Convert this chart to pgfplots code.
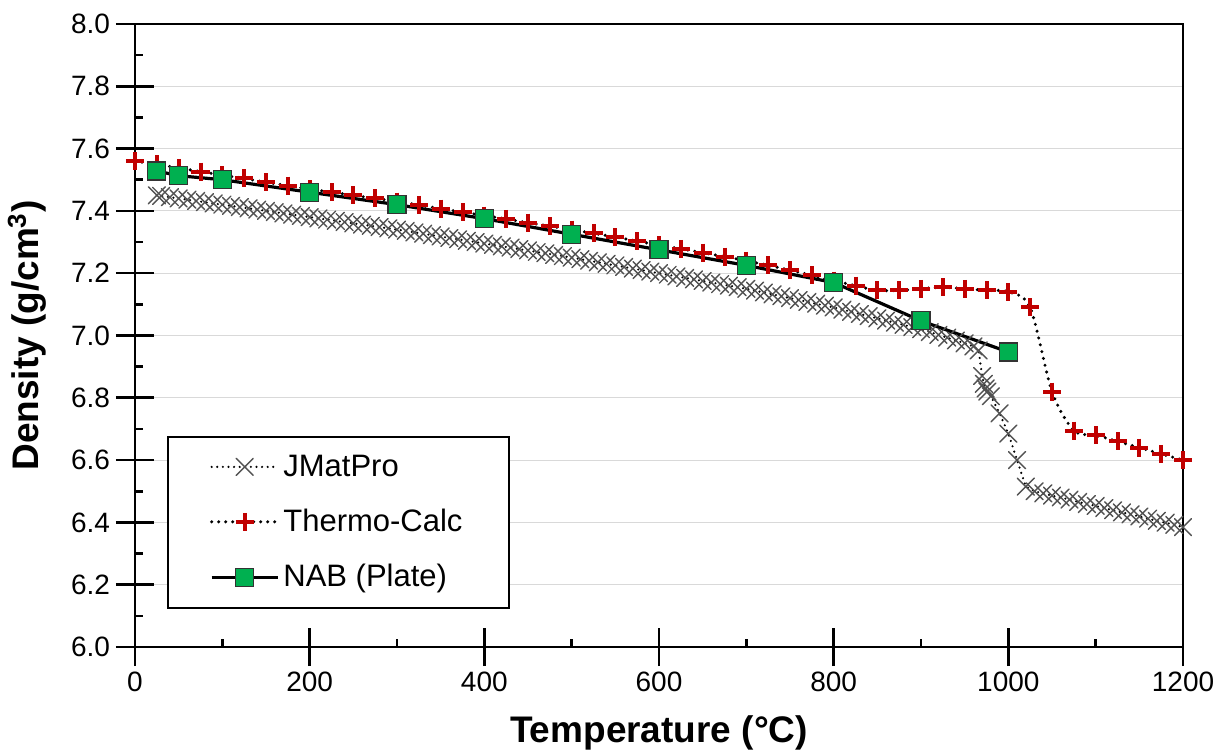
\documentclass[border=0pt]{standalone}
\usepackage{pgfplots}
\pgfplotsset{compat=1.18}
\usepackage{fontspec}
\setmainfont{Liberation Sans}
\definecolor{tcred}{RGB}{192,0,0}
\definecolor{nabgreen}{RGB}{0,176,80}
\begin{document}
\begin{tikzpicture}
\begin{axis}[
  scale only axis, width=524pt, height=311.5pt,
  xmin=0, xmax=1200, ymin=6, ymax=8,
  xtick={0,200,400,600,800,1000,1200},
  ytick={6.0,6.2,6.4,6.6,6.8,7.0,7.2,7.4,7.6,7.8,8.0},
  minor x tick num=1, minor y tick num=1,
  xtick pos=bottom, ytick pos=left,
  tick align=inside, major tick length=9.5pt, minor tick length=4pt,
  extra x ticks={0,200,400,600,800,1000,1200}, extra x tick labels={},
  extra y ticks={6.0,6.2,6.4,6.6,6.8,7.0,7.2,7.4,7.6,7.8,8.0}, extra y tick labels={},
  extra tick style={tick align=outside, grid=none},
  ymajorgrids, grid style={black!15, line width=0.6pt},
  axis line style={black, line width=1.3pt},
  tick style={black, line width=1.3pt},
  /pgf/number format/assume math mode=true,
  ticklabel style={font=\fontsize{14}{16}\selectfont},
  xticklabel style={/pgf/number format/1000 sep={}},
  yticklabel style={/pgf/number format/.cd, fixed, fixed zerofill, precision=1},
  xticklabel shift=9pt, yticklabel shift=9pt,
  xlabel={\bfseries Temperature (°C)},
  ylabel={\bfseries Density (g/cm\textsuperscript{3})},
  label style={font=\fontsize{18.5}{21}\selectfont},
  xlabel style={at={(axis description cs:0.5,-0.1376)}, anchor=center},
  ylabel style={at={(axis description cs:-0.103,0.5)}, anchor=center},
  legend style={at={(rel axis cs:0.0305,0.061)}, anchor=south west, draw=black, line width=1pt,
    font=\fontsize{15.5}{18}\selectfont, inner xsep=21pt, inner ysep=7pt, row sep=11pt},
  legend cell align=left,
  legend image code/.code={\draw[mark repeat=2,mark phase=2] plot coordinates {(0pt,0pt)(16.5pt,0pt)(33pt,0pt)};},
]
% JMatPro
\addplot[black, line width=1.2pt, line cap=round, dash pattern=on 0pt off 2.8pt,
  mark=x, mark size=6pt, mark options={solid, black!68, line width=0.7pt}] coordinates {
(25,7.450)(30,7.448)(40,7.444)(50,7.440)(60,7.436)(70,7.432)(80,7.428)(90,7.424)
(100,7.420)(110,7.416)(120,7.412)(130,7.408)(140,7.404)(150,7.400)(160,7.396)(170,7.392)
(180,7.388)(190,7.384)(200,7.380)(210,7.376)(220,7.372)(230,7.368)(240,7.364)(250,7.360)
(260,7.356)(270,7.352)(280,7.348)(290,7.344)(300,7.340)(310,7.336)(320,7.331)(330,7.327)
(340,7.322)(350,7.318)(360,7.313)(370,7.309)(380,7.304)(390,7.300)(400,7.295)(410,7.291)
(420,7.286)(430,7.282)(440,7.277)(450,7.273)(460,7.268)(470,7.264)(480,7.259)(490,7.255)
(500,7.250)(510,7.245)(520,7.240)(530,7.235)(540,7.230)(550,7.225)(560,7.220)(570,7.215)
(580,7.210)(590,7.205)(600,7.200)(610,7.195)(620,7.190)(630,7.185)(640,7.180)(650,7.175)
(660,7.170)(670,7.165)(680,7.160)(690,7.155)(700,7.150)(710,7.144)(720,7.138)(730,7.132)
(740,7.126)(750,7.120)(760,7.114)(770,7.108)(780,7.102)(790,7.096)(800,7.090)(810,7.083)
(820,7.076)(830,7.069)(840,7.062)(850,7.055)(860,7.048)(870,7.041)(880,7.034)(890,7.027)
(900,7.020)(910,7.011)(920,7.002)(930,6.993)(940,6.984)(950,6.975)(960,6.965)(966,6.952)
(970,6.870)(972,6.845)(974,6.830)(976,6.820)(980,6.805)(990,6.750)(1000,6.685)(1010,6.600)
(1020,6.515)(1030,6.500)(1040,6.493)(1050,6.486)(1060,6.480)(1070,6.473)(1080,6.466)(1090,6.459)
(1100,6.453)(1110,6.446)(1120,6.439)(1130,6.432)(1140,6.426)(1150,6.419)(1160,6.412)(1170,6.405)
(1180,6.399)(1190,6.392)(1200,6.385)
};
\addlegendentry{JMatPro}
% Thermo-Calc
\addplot[black, line width=1.7pt, line cap=round, dash pattern=on 0pt off 3.5pt, smooth,
  mark=+, mark size=4.5pt, mark options={solid, tcred, line width=2pt, line cap=butt}] coordinates {
(0,7.560)(25,7.549)(50,7.538)(75,7.526)(100,7.515)(125,7.504)(150,7.492)(175,7.481)
(200,7.470)(225,7.460)(250,7.450)(275,7.440)(300,7.430)(325,7.419)(350,7.407)(375,7.396)
(400,7.385)(425,7.374)(450,7.362)(475,7.351)(500,7.340)(525,7.328)(550,7.316)(575,7.303)
(600,7.290)(625,7.278)(650,7.266)(675,7.253)(700,7.240)(725,7.225)(750,7.210)(775,7.193)
(800,7.176)(825,7.160)(850,7.145)(875,7.145)(900,7.150)(925,7.155)(950,7.150)(975,7.145)
(1000,7.140)(1025,7.090)(1050,6.820)(1075,6.695)(1100,6.680)(1125,6.660)(1150,6.640)(1175,6.620)
(1200,6.600)
};
\addlegendentry{Thermo-Calc}
% NAB (Plate)
\addplot[black, line width=1.6pt, mark=square*, mark size=4.5pt,
  mark options={solid, fill=nabgreen, draw=black!80, line width=0.6pt}] coordinates {
(25,7.528)(50,7.513)(100,7.500)(200,7.460)(300,7.420)(400,7.375)(500,7.325)(600,7.275)
(700,7.225)(800,7.170)(900,7.047)(1000,6.947)
};
\addlegendentry{NAB (Plate)}
\end{axis}
\pgfresetboundingbox
\path ([xshift=-67.5pt,yshift=-51pt]current axis.south west) rectangle ([xshift=20.5pt,yshift=12pt]current axis.north east);
\end{tikzpicture}
\end{document}
